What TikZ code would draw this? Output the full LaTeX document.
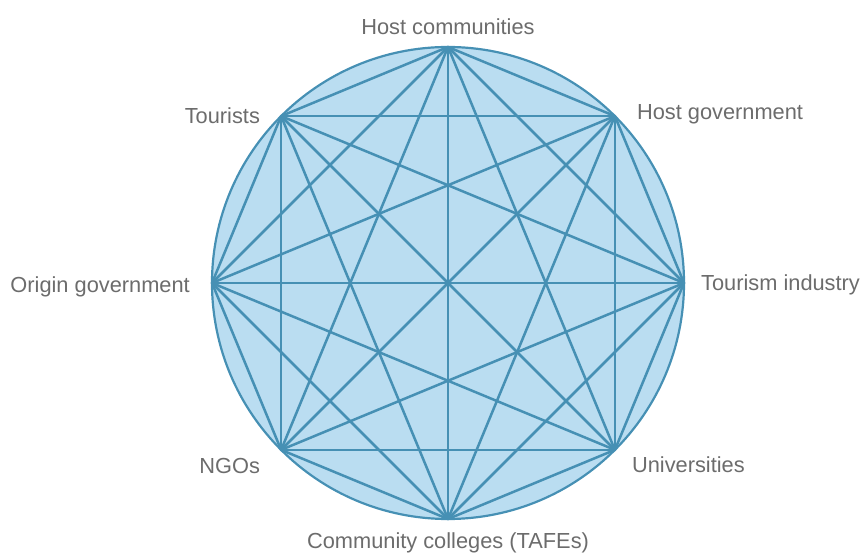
\documentclass[tikz,border=0pt]{standalone}
\usepackage{fontspec}
\setmainfont{Liberation Sans}
\usetikzlibrary{calc}
\definecolor{discfill}{RGB}{186,221,241}
\definecolor{linkline}{RGB}{70,144,180}
\definecolor{labelgray}{RGB}{108,108,108}
\begin{document}
\begin{tikzpicture}[x=1pt,y=1pt,
  link/.style={draw=linkline,line width=2.5pt,line cap=round},
  lbl/.style={text=labelgray,inner sep=0pt,font=\fontsize{21.8}{25}\selectfont}]
\useasboundingbox (0,0) rectangle (865,557);
\coordinate (c) at (448,274);
\fill[discfill] (c) circle (236);
\draw[linkline,line width=2.2pt] (c) circle (236);
% the eight stakeholders, evenly spaced around the circle
\foreach \i/\a in {1/90,2/45,3/0,4/-45,5/-90,6/-135,7/180,8/135}
  \coordinate (p\i) at ($(c)+(\a:236)$);
% every pair of stakeholders is linked
\foreach \i in {1,...,8}{
  \foreach \j in {1,...,8}{
    \ifnum\i<\j \draw[link] (p\i) -- (p\j); \fi
  }
}
\node[lbl,anchor=south] (l1) at ($(p1)+(0,12)$) {Host communities};
\node[lbl,anchor=west] (l2) at ($(p2)+(22,2)$) {Host government};
\node[lbl,anchor=west] (l3) at ($(p3)+(17,-2)$) {Tourism industry};
\node[lbl,anchor=west] (l4) at ($(p4)+(17,-15)$) {Universities};
\node[lbl,anchor=north] (l5) at ($(p5)+(0,-14)$) {Community colleges (TAFEs)};
\node[lbl,anchor=east] (l6) at ($(p6)+(-21,-16)$) {NGOs};
\node[lbl,anchor=east] (l7) at ($(p7)+(-22,-4)$) {Origin government};
\node[lbl,anchor=east] (l8) at ($(p8)+(-21,0)$) {Tourists};
\end{tikzpicture}
\end{document}
